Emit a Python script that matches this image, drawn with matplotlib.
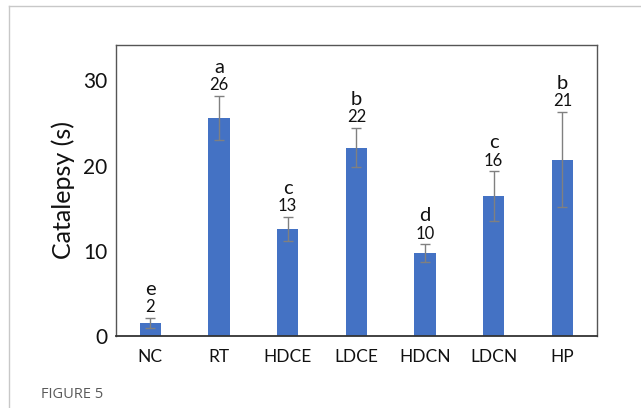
import matplotlib
matplotlib.use("Agg")
import matplotlib.pyplot as plt
from matplotlib.lines import Line2D

# Catalepsy time per treatment group
groups = ["NC", "RT", "HDCE", "LDCE", "HDCN", "LDCN", "HP"]
means = [1.5, 25.6, 12.6, 22.1, 9.7, 16.4, 20.7]
errors = [0.6, 2.6, 1.4, 2.3, 1.05, 2.9, 5.6]
letters = ["e", "a", "c", "b", "d", "c", "b"]
yticks = [0, 10, 20, 30]

BAR = "#4472C4"
ERR = "#808080"
FONT = "Lato"
INK = "#111111"

fig = plt.figure(figsize=(6.41, 4.08), dpi=100)
W, H = 641, 408

# thin grey panel frame around the figure
fig.add_artist(Line2D([9 / W, 1.0], [1 - 6 / H, 1 - 6 / H], transform=fig.transFigure,
                      color="#c8c8c8", lw=1.0))
fig.add_artist(Line2D([9 / W, 9 / W], [0.0, 1 - 6 / H], transform=fig.transFigure,
                      color="#c8c8c8", lw=1.0))

ax = fig.add_axes([116 / W, 72 / H, 480.7 / W, 291.5 / H])
x = list(range(len(groups)))
ax.bar(x, means, width=0.31, color=BAR, zorder=2)
ax.errorbar(x, means, yerr=errors, fmt="none", ecolor=ERR, elinewidth=1.0,
            capsize=3.5, capthick=1.0, zorder=3)

for xi, m, e, lt in zip(x, means, errors, letters):
    ax.annotate(f"{m:.0f}", (xi, m + e), xytext=(0, 2), textcoords="offset points",
                ha="center", va="bottom", fontsize=12, family=FONT, color=INK)
    ax.annotate(lt, (xi, m + e), xytext=(0, 14.5), textcoords="offset points",
                ha="center", va="bottom", fontsize=14.5, family=FONT, color=INK)

ax.set_xlim(-0.5, len(groups) - 0.5)
ax.set_ylim(0, 34.2)
ax.set_yticks(yticks)
ax.set_yticklabels([str(t) for t in yticks], fontsize=15, family=FONT)
ax.set_xticks(x)
ax.set_xticklabels(groups, fontsize=12.5, family=FONT)
ax.tick_params(axis="both", length=0, pad=6, colors=INK)
ax.tick_params(axis="x", pad=9)
ax.set_ylabel("Catalepsy (s)", fontsize=18, family=FONT, color=INK, labelpad=6)
for sp in ax.spines.values():
    sp.set_color("#555555")
    sp.set_linewidth(1.0)
ax.spines["bottom"].set_color("#333333")
ax.spines["bottom"].set_linewidth(1.3)

fig.text(41 / W, 1 - 398 / H, "FIGURE 5", family="Open Sans", fontsize=10.5,
         color="#5a5a5a", ha="left", va="baseline")

fig.savefig("out.png", dpi=100)
